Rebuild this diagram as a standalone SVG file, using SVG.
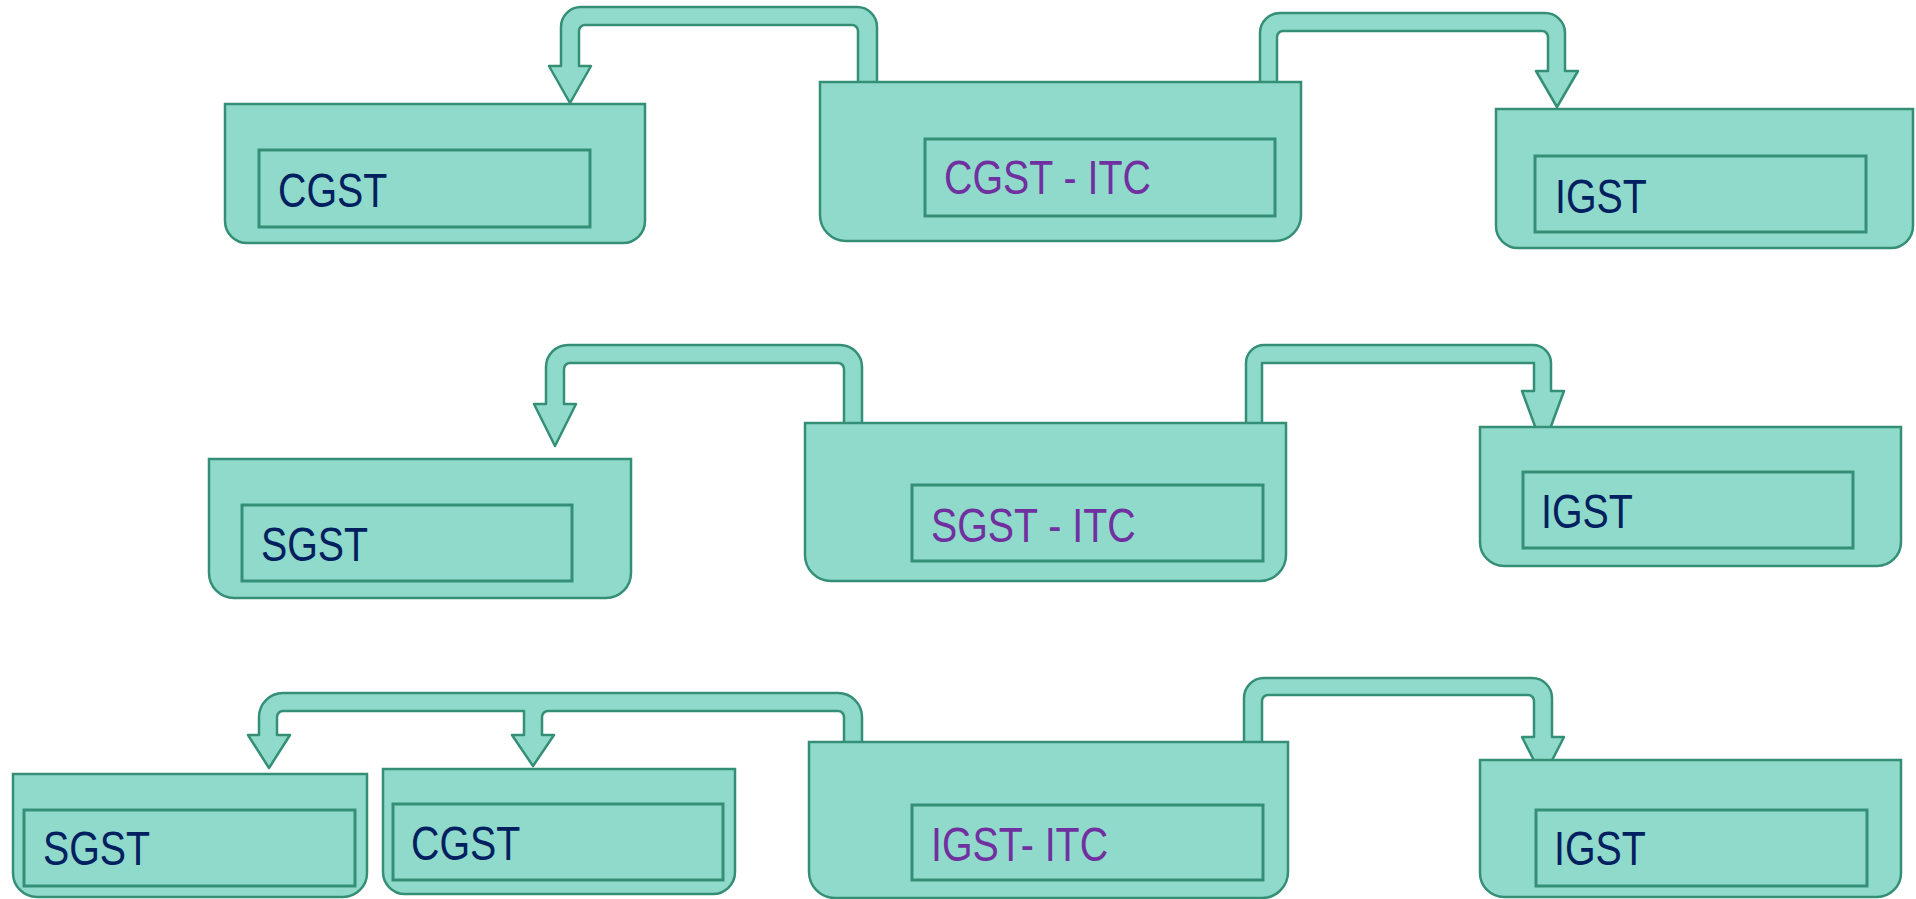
<svg xmlns="http://www.w3.org/2000/svg" width="1916" height="899" viewBox="0 0 1916 899">
  <style>
    .band { fill: #90dacb; stroke: #348f76; stroke-width: 2.5; stroke-linejoin: round; }
    .outer { fill: #90dacb; stroke: #348f76; stroke-width: 2.5; }
    .inner { fill: #90dacb; stroke: #348f76; stroke-width: 3; }
    .lbl { font-family: "Liberation Sans", Arial, sans-serif; font-size: 48px; }
    .tax { fill: #002060; }
    .itc { fill: #7030a0; }
  </style>
  <rect width="1916" height="899" fill="#ffffff"/>

  <!-- Flow bands (drawn beneath the boxes) -->
  <g id="connectors">
    <!-- row 1: CGST-ITC -> CGST -->
    <path class="band" d="M 877 100 V 27 A 20 20 0 0 0 857 7 H 581 A 20 20 0 0 0 561 27 V 66 H 549 L 570 103 L 591 66 H 579 V 31 A 6 6 0 0 1 585 25 H 852 A 6 6 0 0 1 858 31 V 100 Z"/>
    <!-- row 1: CGST-ITC -> IGST -->
    <path class="band" d="M 1260 100 V 33 A 20 20 0 0 1 1280 13 H 1545 A 20 20 0 0 1 1565 33 V 71 H 1578 L 1557 107 L 1536 71 H 1548 V 37 A 6 6 0 0 0 1542 31 H 1283 A 6 6 0 0 0 1277 37 V 100 Z"/>
    <!-- row 2: SGST-ITC -> SGST -->
    <path class="band" d="M 862 440 V 367 A 22 22 0 0 0 840 345 H 568 A 22 22 0 0 0 546 367 V 404 H 534 L 555 446 L 576 404 H 564 V 369 A 6 6 0 0 1 570 363 H 838 A 6 6 0 0 1 844 369 V 440 Z"/>
    <!-- row 2: SGST-ITC -> IGST -->
    <path class="band" d="M 1246 440 V 363 A 18 18 0 0 1 1264 345 H 1533 A 18 18 0 0 1 1551 363 V 391 H 1564 L 1543 448 L 1522 391 H 1534 V 363 H 1262 V 440 Z"/>
    <!-- row 3: IGST-ITC -> SGST and CGST -->
    <path class="band" d="M 862 760 V 717 A 24 24 0 0 0 838 693 H 283 A 24 24 0 0 0 259 717 V 735 H 248 L 269 768 L 290 735 H 277 V 717 A 6 6 0 0 1 283 711 H 524 V 735 H 512 L 533 766 L 554 735 H 542 V 717 A 6 6 0 0 1 548 711 H 838 A 6 6 0 0 1 844 717 V 760 Z"/>
    <!-- row 3: IGST-ITC -> IGST -->
    <path class="band" d="M 1244 770 V 698 A 20 20 0 0 1 1264 678 H 1532 A 20 20 0 0 1 1552 698 V 737 H 1564 L 1543 778 L 1522 737 H 1534 V 701 A 6 6 0 0 0 1528 695 H 1268 A 6 6 0 0 0 1262 701 V 770 Z"/>
  </g>

  <!-- Row 1 -->
  <g id="r1-cgst">
    <path class="outer" d="M 225 104 H 645 V 221 A 22 22 0 0 1 623 243 H 247 A 22 22 0 0 1 225 221 Z"/>
    <rect class="inner" x="259" y="150" width="331" height="77"/>
    <text class="lbl tax" transform="translate(278,207) scale(0.82,1)">CGST</text>
  </g>
  <g id="r1-cgst-itc">
    <path class="outer" d="M 820 82 H 1301 V 215 A 26 26 0 0 1 1275 241 H 846 A 26 26 0 0 1 820 215 Z"/>
    <rect class="inner" x="925" y="139" width="350" height="77"/>
    <text class="lbl itc" transform="translate(944,194) scale(0.82,1)">CGST - ITC</text>
  </g>
  <g id="r1-igst">
    <path class="outer" d="M 1496 109 H 1913 V 226 A 22 22 0 0 1 1891 248 H 1518 A 22 22 0 0 1 1496 226 Z"/>
    <rect class="inner" x="1535" y="156" width="331" height="76"/>
    <text class="lbl tax" transform="translate(1555,213) scale(0.82,1)">IGST</text>
  </g>

  <!-- Row 2 -->
  <g id="r2-sgst">
    <path class="outer" d="M 209 459 H 631 V 573 A 25 25 0 0 1 606 598 H 234 A 25 25 0 0 1 209 573 Z"/>
    <rect class="inner" x="242" y="505" width="330" height="76"/>
    <text class="lbl tax" transform="translate(261,561) scale(0.82,1)">SGST</text>
  </g>
  <g id="r2-sgst-itc">
    <path class="outer" d="M 805 423 H 1286 V 555 A 26 26 0 0 1 1260 581 H 831 A 26 26 0 0 1 805 555 Z"/>
    <rect class="inner" x="912" y="485" width="351" height="76"/>
    <text class="lbl itc" transform="translate(931,542) scale(0.82,1)">SGST - ITC</text>
  </g>
  <g id="r2-igst">
    <path class="outer" d="M 1480 427 H 1901 V 542 A 24 24 0 0 1 1877 566 H 1504 A 24 24 0 0 1 1480 542 Z"/>
    <rect class="inner" x="1523" y="472" width="330" height="76"/>
    <text class="lbl tax" transform="translate(1541,528) scale(0.82,1)">IGST</text>
  </g>

  <!-- Row 3 -->
  <g id="r3-sgst">
    <path class="outer" d="M 13 774 H 367 V 873 A 24 24 0 0 1 343 897 H 37 A 24 24 0 0 1 13 873 Z"/>
    <rect class="inner" x="24" y="810" width="331" height="76"/>
    <text class="lbl tax" transform="translate(43,865) scale(0.82,1)">SGST</text>
  </g>
  <g id="r3-cgst">
    <path class="outer" d="M 383 769 H 735 V 872 A 22 22 0 0 1 713 894 H 405 A 22 22 0 0 1 383 872 Z"/>
    <rect class="inner" x="393" y="804" width="330" height="76"/>
    <text class="lbl tax" transform="translate(411,860) scale(0.82,1)">CGST</text>
  </g>
  <g id="r3-igst-itc">
    <path class="outer" d="M 809 742 H 1288 V 872 A 26 26 0 0 1 1262 898 H 835 A 26 26 0 0 1 809 872 Z"/>
    <rect class="inner" x="912" y="805" width="351" height="75"/>
    <text class="lbl itc" transform="translate(931,861) scale(0.82,1)">IGST- ITC</text>
  </g>
  <g id="r3-igst">
    <path class="outer" d="M 1480 760 H 1901 V 873 A 24 24 0 0 1 1877 897 H 1504 A 24 24 0 0 1 1480 873 Z"/>
    <rect class="inner" x="1536" y="810" width="331" height="76"/>
    <text class="lbl tax" transform="translate(1554,865) scale(0.82,1)">IGST</text>
  </g>
</svg>
